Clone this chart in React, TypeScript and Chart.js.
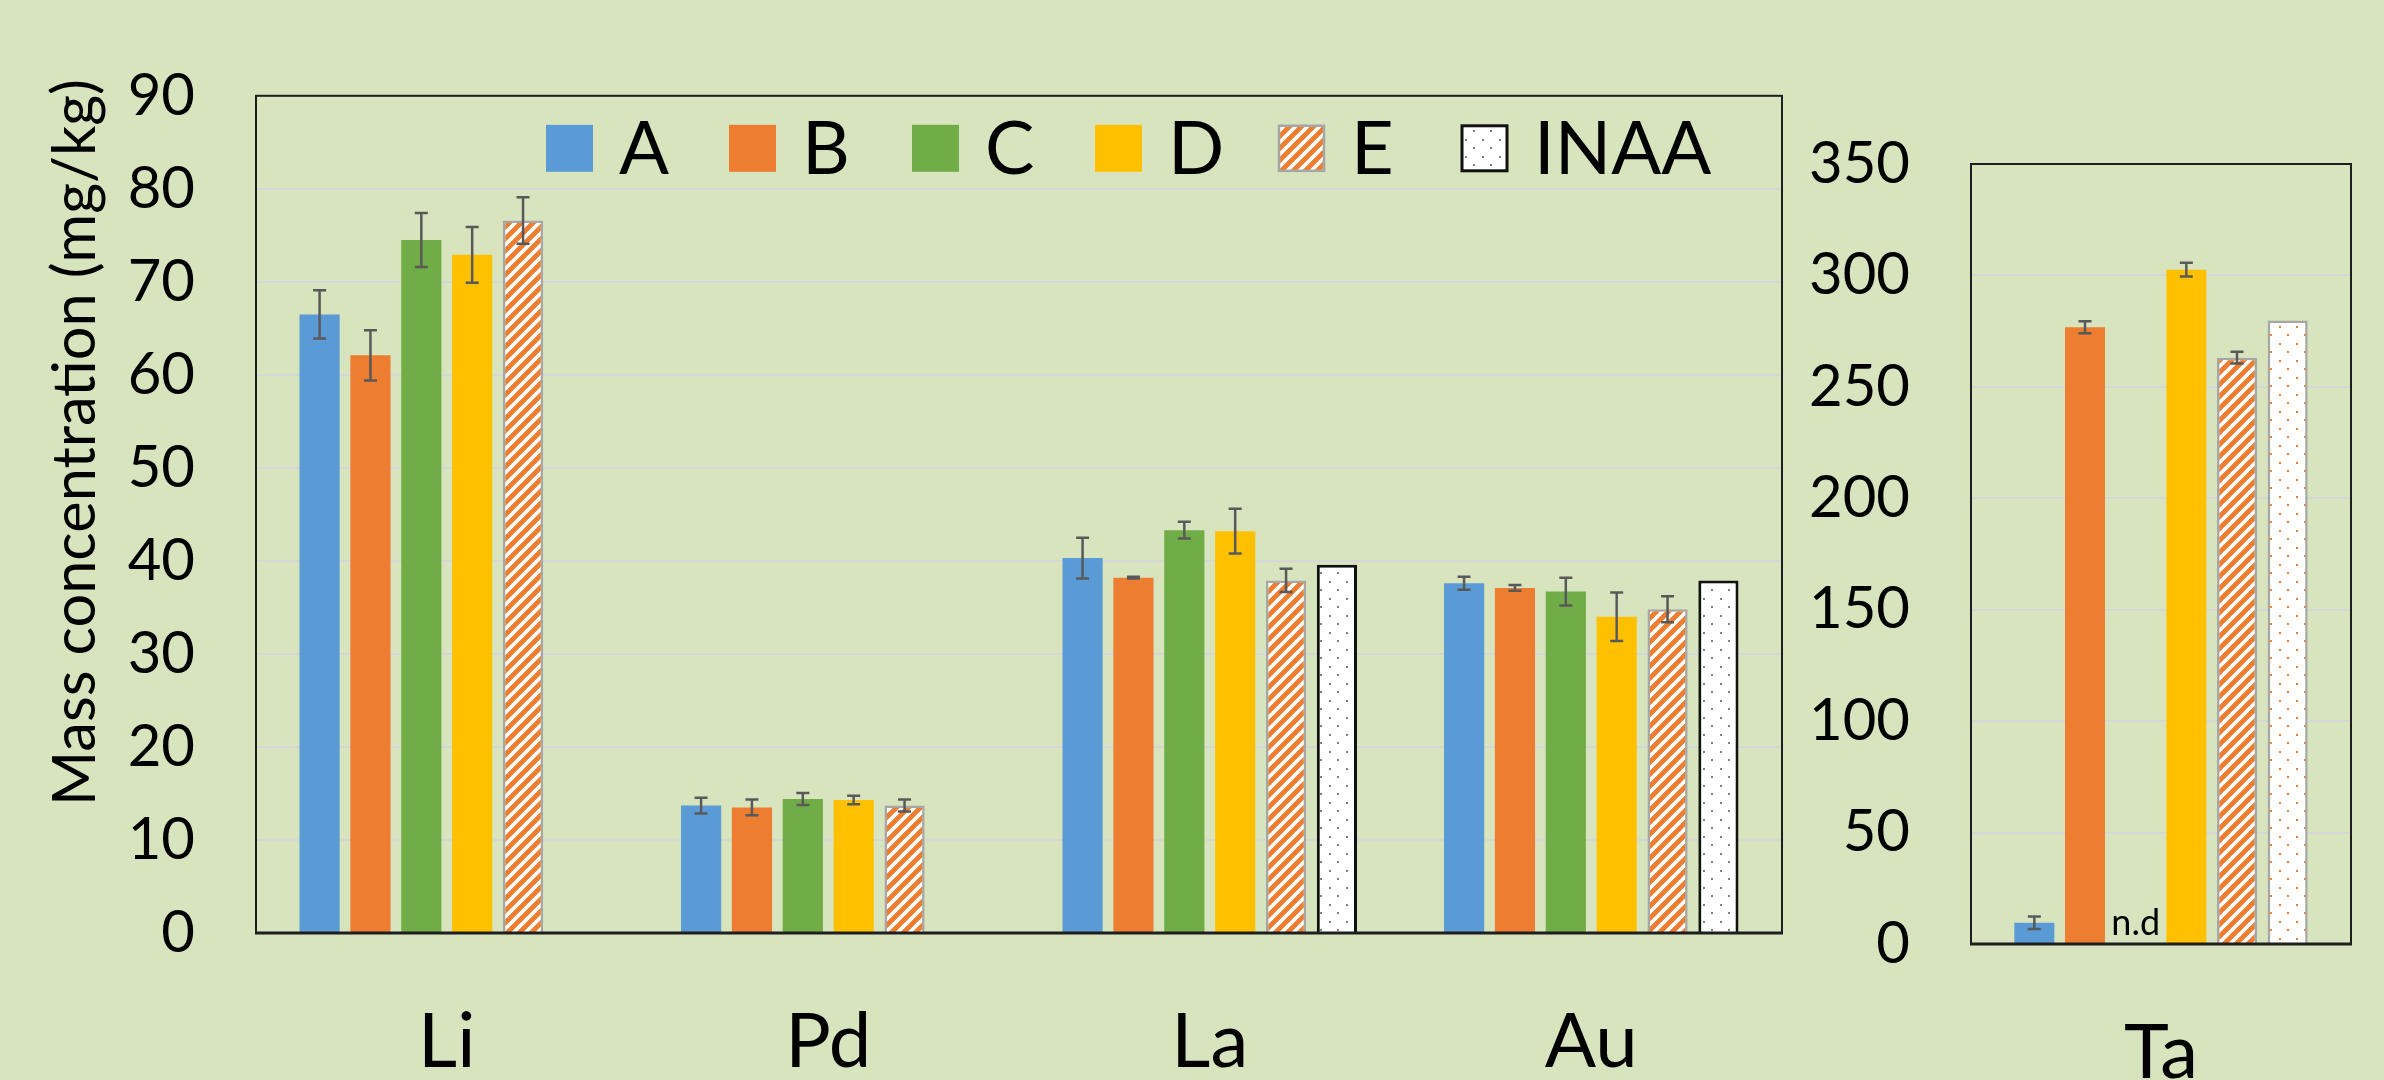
import React, { useEffect, useRef } from 'react';
import { Chart, registerables } from 'chart.js';

Chart.register(...registerables);

// ---------- data ----------
const categories = ['Li', 'Pd', 'La', 'Au'];
const seriesNames = ['A', 'B', 'C', 'D', 'E', 'INAA'];

const valuesA = [66.5, 13.7, 40.3, 37.6];
const valuesB = [62.1, 13.5, 38.2, 37.1];
const valuesC = [74.5, 14.4, 43.3, 36.7];
const valuesD = [72.9, 14.3, 43.2, 34.0];
const valuesE = [76.6, 13.7, 37.9, 34.8];
const valuesINAA = [null, null, 39.6, 37.9];

const errorsA = [2.6, 0.85, 2.2, 0.7];
const errorsB = [2.7, 0.85, 0.1, 0.3];
const errorsC = [2.9, 0.65, 0.9, 1.5];
const errorsD = [3.0, 0.45, 2.4, 2.6];
const errorsE = [2.5, 0.65, 1.25, 1.4];

const taCategory = ['Ta'];
// order: A, B, C, D, E, INAA
const taValues = [9.5, 276.7, null, 302.6, 263.1, 279.8];
const taErrors = [2.8, 2.7, null, 3.1, 2.6, null];

const leftTicks = { min: 0, max: 90, step: 10 };
const rightTicks = { min: 0, max: 350, step: 50 };

const yAxisTitle = 'Mass concentration (mg/kg)';
const notDetectedLabel = 'n.d';

// ---------- styles ----------
const BG = '#D8E4BE';
const FONT = 'Lato, "Open Sans", sans-serif';
const BLUE = '#5B9BD5';
const ORANGE = '#ED7D31';
const GREEN = '#70AD47';
const GOLD = '#FFC000';
const GRID = '#D6D6D6';
const ERR = '#595959';

function stripePattern(color: string): CanvasPattern {
  const c = document.createElement('canvas');
  c.width = 12;
  c.height = 12;
  const g = c.getContext('2d')!;
  g.fillStyle = '#FFFFFF';
  g.fillRect(0, 0, 12, 12);
  g.strokeStyle = color;
  g.lineWidth = 4.8;
  g.beginPath();
  g.moveTo(-4, 16); g.lineTo(16, -4);
  g.moveTo(-4, 4); g.lineTo(4, -4);
  g.moveTo(8, 16); g.lineTo(16, 8);
  g.stroke();
  return g.createPattern(c, 'repeat')!;
}

function dotPattern(color: string): CanvasPattern {
  const c = document.createElement('canvas');
  c.width = 17;
  c.height = 17;
  const g = c.getContext('2d')!;
  g.fillStyle = '#FFFFFF';
  g.fillRect(0, 0, 17, 17);
  g.fillStyle = color;
  g.fillRect(3, 3, 2, 2);
  g.fillRect(11, 11, 2, 2);
  return g.createPattern(c, 'repeat')!;
}

function frameAndErrors(errors: (number | null)[][]) {
  return {
    id: 'frameAndErrors',
    afterDatasetsDraw(chart: any) {
      const ctx = chart.ctx as CanvasRenderingContext2D;
      const a = chart.chartArea;
      const y = chart.scales.y;
      ctx.save();
      ctx.strokeStyle = '#1E1E1E';
      ctx.lineWidth = 2;
      ctx.strokeRect(a.left, a.top, a.right - a.left, a.bottom - a.top);
      ctx.lineWidth = 3;
      ctx.beginPath();
      ctx.moveTo(a.left - 1, a.bottom);
      ctx.lineTo(a.right + 1, a.bottom);
      ctx.stroke();

      ctx.strokeStyle = ERR;
      ctx.lineWidth = 2.5;
      chart.data.datasets.forEach((ds: any, i: number) => {
        const errs = errors[i];
        if (!errs) return;
        const meta = chart.getDatasetMeta(i);
        ds.data.forEach((v: number | null, j: number) => {
          const e = errs[j];
          if (v == null || e == null) return;
          const x = meta.data[j].x;
          const yt = y.getPixelForValue(v + e);
          const yb = y.getPixelForValue(v - e);
          ctx.beginPath();
          ctx.moveTo(x, yt); ctx.lineTo(x, yb);
          ctx.moveTo(x - 6.5, yt); ctx.lineTo(x + 6.5, yt);
          ctx.moveTo(x - 6.5, yb); ctx.lineTo(x + 6.5, yb);
          ctx.stroke();
        });
      });
      ctx.restore();
    },
  };
}

export default function App() {
  const leftRef = useRef<HTMLCanvasElement>(null);
  const rightRef = useRef<HTMLCanvasElement>(null);

  useEffect(() => {
    document.body.style.margin = '0';
    document.body.style.overflow = 'hidden';

    const stripes = stripePattern(ORANGE);
    const grayDots = dotPattern('#808080');
    const orangeDots = dotPattern(ORANGE);

    const leftFills: any[] = [BLUE, ORANGE, GREEN, GOLD, stripes, grayDots];
    const leftBorders = [BLUE, ORANGE, GREEN, GOLD, '#A6A6A6', '#111111'];
    const leftBorderWidths = [0, 0, 0, 0, 2.5, 3];
    const leftValues = [valuesA, valuesB, valuesC, valuesD, valuesE, valuesINAA];
    const leftErrors: any[] = [errorsA, errorsB, errorsC, errorsD, errorsE, null];

    const rightFills: any[] = [BLUE, ORANGE, GREEN, GOLD, stripes, orangeDots];
    const rightBorders = [BLUE, ORANGE, GREEN, GOLD, '#A6A6A6', '#A6A6A6'];
    const rightBorderWidths = [0, 0, 0, 0, 2.5, 2.5];

    const tickFont = { family: FONT, size: 58 };
    const catFont = { family: FONT, size: 76 };

    const leftExtras = {
      id: 'leftExtras',
      afterDraw(chart: any) {
        const ctx = chart.ctx as CanvasRenderingContext2D;
        const a = chart.chartArea;
        ctx.save();
        // y axis title
        ctx.font = `100px ${FONT}`;
        const w = ctx.measureText(yAxisTitle).width;
        const size = (100 * 727) / w;
        ctx.font = `${size}px ${FONT}`;
        ctx.fillStyle = '#000';
        ctx.textAlign = 'left';
        ctx.textBaseline = 'alphabetic';
        ctx.translate(95, 806);
        ctx.rotate(-Math.PI / 2);
        ctx.fillText(yAxisTitle, 0, 0);
        ctx.restore();

        // legend inside plot area
        ctx.save();
        const x0 = a.left + 290;
        const slot = 183;
        const by = a.top + 29;
        const bs = 47;
        ctx.font = `74px ${FONT}`;
        ctx.textBaseline = 'alphabetic';
        ctx.textAlign = 'left';
        seriesNames.forEach((name, i) => {
          const x = x0 + i * slot;
          ctx.fillStyle = leftFills[i];
          ctx.fillRect(x, by, bs, bs);
          if (leftBorderWidths[i] > 0) {
            ctx.strokeStyle = leftBorders[i];
            ctx.lineWidth = leftBorderWidths[i];
            ctx.strokeRect(x + 1, by + 1, bs - 2, bs - 2);
          }
          ctx.fillStyle = '#000';
          ctx.fillText(name, x + bs + 26, by + 49);
        });
        ctx.restore();
      },
    };

    const rightExtras = {
      id: 'rightExtras',
      afterDraw(chart: any) {
        const ctx = chart.ctx as CanvasRenderingContext2D;
        const xb = chart.getDatasetMeta(1).data[0].x;
        const xd = chart.getDatasetMeta(3).data[0].x;
        const y0 = chart.scales.y.getPixelForValue(0);
        ctx.save();
        ctx.font = `36px ${FONT}`;
        ctx.fillStyle = '#000';
        ctx.textAlign = 'center';
        ctx.textBaseline = 'alphabetic';
        ctx.fillText(notDetectedLabel, (xb + xd) / 2, y0 - 9);
        ctx.restore();
      },
    };

    const left = new Chart(leftRef.current!, {
      type: 'bar',
      data: {
        labels: categories,
        datasets: seriesNames.map((name, i) => ({
          label: name,
          data: leftValues[i],
          backgroundColor: leftFills[i],
          borderColor: leftBorders[i],
          borderWidth: leftBorderWidths[i],
          categoryPercentage: 0.8,
          barPercentage: 0.79,
        })),
      },
      options: {
        responsive: false,
        animation: false,
        devicePixelRatio: 1,
        layout: { padding: { top: 60, right: 18, left: 0, bottom: 0 } },
        plugins: { legend: { display: false }, tooltip: { enabled: false } },
        scales: {
          x: {
            offset: true,
            grid: { display: false, drawTicks: false },
            border: { display: false },
            ticks: { font: catFont, color: '#000', padding: 64, autoSkip: false, maxRotation: 0 },
            afterFit: (s: any) => { s.height = 147; },
          },
          y: {
            min: leftTicks.min,
            max: leftTicks.max,
            grid: { color: GRID, lineWidth: 2, drawTicks: false },
            border: { display: false },
            ticks: { stepSize: leftTicks.step, font: tickFont, color: '#000', padding: 61 },
            afterFit: (s: any) => { s.width = 256; },
          },
        },
      } as any,
      plugins: [frameAndErrors(leftErrors), leftExtras],
    });

    const right = new Chart(rightRef.current!, {
      type: 'bar',
      data: {
        labels: taCategory,
        datasets: seriesNames.map((name, i) => ({
          label: name,
          data: [taValues[i]],
          backgroundColor: rightFills[i],
          borderColor: rightBorders[i],
          borderWidth: rightBorderWidths[i],
          categoryPercentage: 0.8,
          barPercentage: 0.79,
        })),
      },
      options: {
        responsive: false,
        animation: false,
        devicePixelRatio: 1,
        layout: { padding: { top: 164, right: 33, left: 0, bottom: 0 } },
        plugins: { legend: { display: false }, tooltip: { enabled: false } },
        scales: {
          x: {
            offset: true,
            grid: { display: false, drawTicks: false },
            border: { display: false },
            ticks: { font: catFont, color: '#000', padding: 64, autoSkip: false, maxRotation: 0 },
            afterFit: (s: any) => { s.height = 136; },
          },
          y: {
            min: rightTicks.min,
            max: rightTicks.max,
            grid: { color: GRID, lineWidth: 2, drawTicks: false },
            border: { display: false },
            ticks: { stepSize: rightTicks.step, font: tickFont, color: '#000', padding: 61 },
            afterFit: (s: any) => { s.width = 171; },
          },
        },
      } as any,
      plugins: [frameAndErrors(taErrors.map((e) => [e])), rightExtras],
    });

    return () => {
      left.destroy();
      right.destroy();
    };
  }, []);

  return (
    <div
      style={{
        position: 'absolute',
        left: 0,
        top: 0,
        width: 2384,
        height: 1080,
        background: BG,
        overflow: 'hidden',
      }}
    >
      <canvas
        ref={leftRef}
        width={1800}
        height={1080}
        style={{ position: 'absolute', left: 0, top: 0, width: 1800, height: 1080 }}
      />
      <canvas
        ref={rightRef}
        width={584}
        height={1080}
        style={{ position: 'absolute', left: 1800, top: 0, width: 584, height: 1080 }}
      />
    </div>
  );
}
